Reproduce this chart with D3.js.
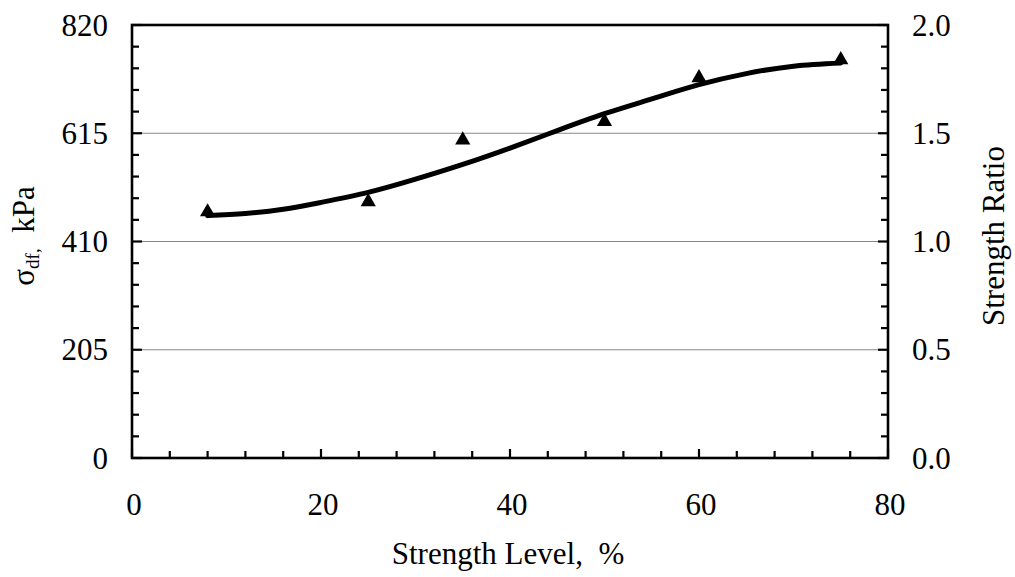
<!DOCTYPE html>
<html><head><meta charset="utf-8">
<script src="https://cdn.jsdelivr.net/npm/d3@7"></script>
<style>body{margin:0;background:#fff}svg{display:block}text{font-family:"Liberation Serif","Times New Roman",serif;fill:#000}</style>
</head><body>
<svg id="c" width="1015" height="577"></svg>
<script>
const pointX = [8, 25, 35, 50, 60, 75];
const pointY = [466, 485, 602, 637, 720, 754];
const fitX = [8, 12, 16, 20, 25, 30, 35, 40, 45, 50, 55, 60, 65, 70, 75];
const fitY = [459, 463, 471, 484, 503, 528, 556, 587, 620, 652, 680, 707, 728, 742, 748];
const xTicks = [0, 20, 40, 60, 80];
const yTicks = [0, 205, 410, 615, 820];
const y2Ticks = [0, 0.5, 1.0, 1.5, 2.0];

const svg = d3.select("#c");
const L = 132, R = 888, T = 25, B = 458;
const x = d3.scaleLinear().domain([0, 80]).range([L, R]);
const y = d3.scaleLinear().domain([0, 820]).range([B, T]);
const y2 = d3.scaleLinear().domain([0, 2]).range([B, T]);

// grid lines
svg.append("g").selectAll("line").data([205, 410, 615]).join("line")
  .attr("x1", L).attr("x2", R).attr("y1", d => y(d)).attr("y2", d => y(d))
  .attr("stroke", "#888").attr("stroke-width", 1.2);

// minor ticks
const xMinor = d3.range(0, 81, 4);
svg.append("g").selectAll("line").data(xMinor).join("line")
  .attr("x1", d => x(d)).attr("x2", d => x(d))
  .attr("y1", B).attr("y2", d => B - (d % 20 === 0 ? 9 : 7))
  .attr("stroke", "#000").attr("stroke-width", 2.2);
const yMinor = d3.range(0, 821, 41);
svg.append("g").selectAll("line").data(yMinor).join("line")
  .attr("y1", d => y(d)).attr("y2", d => y(d))
  .attr("x1", L).attr("x2", d => L + (d % 205 === 0 ? 10 : 7))
  .attr("stroke", "#000").attr("stroke-width", 2.2);
const y2Minor = d3.range(0, 21, 1).map(d => d / 10);
svg.append("g").selectAll("line").data(y2Minor).join("line")
  .attr("y1", d => y2(d)).attr("y2", d => y2(d))
  .attr("x1", R).attr("x2", (d, i) => R - (i % 5 === 0 ? 10 : 7))
  .attr("stroke", "#000").attr("stroke-width", 2.2);

// frame
svg.append("rect").attr("x", L).attr("y", T).attr("width", R - L).attr("height", B - T)
  .attr("fill", "none").attr("stroke", "#000").attr("stroke-width", 2.6);

// fitted curve
const line = d3.line().x(d => x(d[0])).y(d => y(d[1])).curve(d3.curveNatural);
svg.append("path").datum(fitX.map((v, i) => [v, fitY[i]]))
  .attr("d", line).attr("fill", "none").attr("stroke", "#000").attr("stroke-width", 5)
  .attr("stroke-linecap", "round");

// points
const tri = d3.symbol().type(d3.symbolTriangle).size(100);
svg.append("g").selectAll("path").data(pointX.map((v, i) => [v, pointY[i]])).join("path")
  .attr("d", tri).attr("transform", d => `translate(${x(d[0])},${y(d[1])})`).attr("fill", "#000");

// tick labels
const fs = 31;
svg.append("g").selectAll("text").data(xTicks).join("text")
  .attr("x", d => x(d) + 2).attr("y", 515).attr("text-anchor", "middle")
  .attr("font-size", fs).text(d => d);
svg.append("g").selectAll("text").data(yTicks).join("text")
  .attr("x", 108).attr("y", d => y(d) + 10.5).attr("text-anchor", "end")
  .attr("font-size", fs).text(d => d);
svg.append("g").selectAll("text").data(y2Ticks).join("text")
  .attr("x", 912).attr("y", d => y2(d) + 10.5).attr("text-anchor", "start")
  .attr("font-size", fs).text(d => d.toFixed(1));

// axis titles
svg.append("text").attr("x", 508).attr("y", 564).attr("text-anchor", "middle")
  .attr("font-size", fs).attr("xml:space", "preserve").text("Strength Level,  %");
const lt = svg.append("text").attr("transform", "translate(34,236) rotate(-90)")
  .attr("text-anchor", "middle").attr("font-size", fs).attr("xml:space", "preserve");
lt.append("tspan").text("σ");
lt.append("tspan").attr("font-size", 19).attr("dy", 5).text("df,");
lt.append("tspan").attr("dy", -5).text("  kPa");
svg.append("text").attr("transform", "translate(1004,236) rotate(-90)")
  .attr("text-anchor", "middle").attr("font-size", fs).text("Strength Ratio");
</script>
</body></html>
